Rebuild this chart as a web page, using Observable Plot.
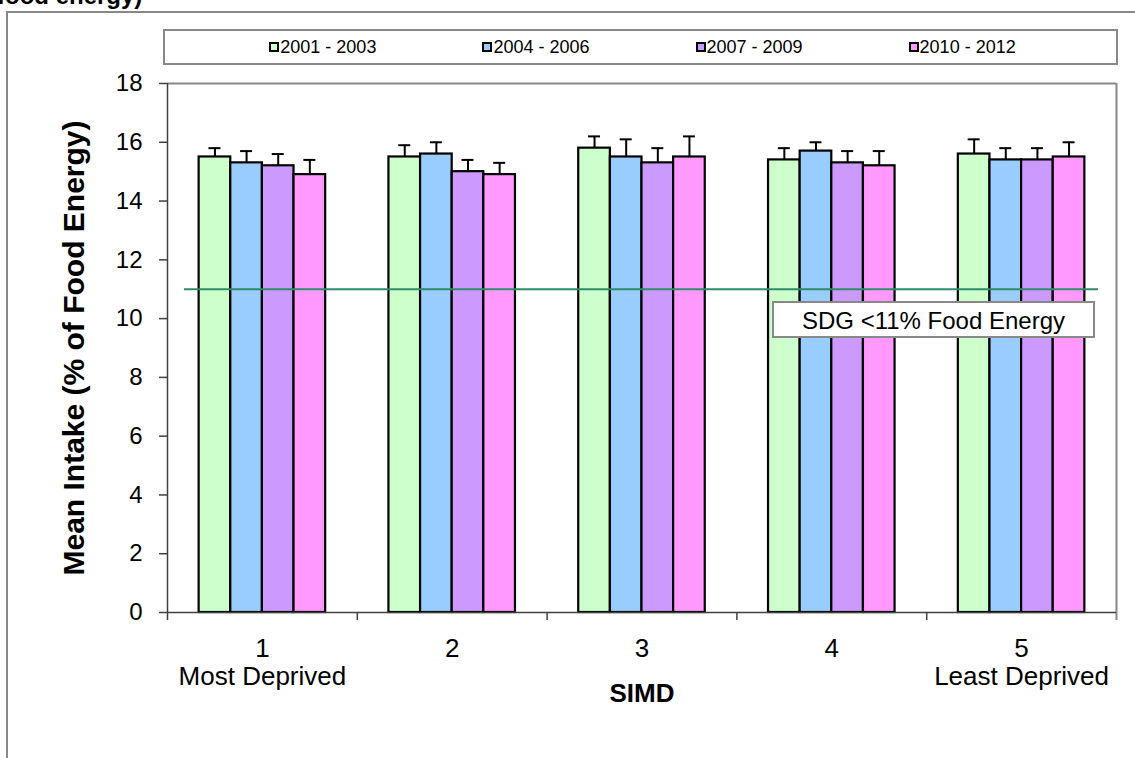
<!DOCTYPE html>
<html><head><meta charset="utf-8">
<script src="https://cdn.jsdelivr.net/npm/d3@7"></script>
<script src="https://cdn.jsdelivr.net/npm/@observablehq/plot@0.6"></script>
<style>
body{margin:0;background:#fff;font-family:"Liberation Sans",Arial,sans-serif;}
#wrap{position:relative;width:1135px;height:758px;overflow:hidden;background:#fff;}
#frame{position:absolute;left:6px;top:11px;width:1200px;height:800px;border:2px solid #888;box-sizing:border-box;}
#title{position:absolute;left:-3px;top:-16px;font-weight:bold;font-size:24px;line-height:23px;white-space:nowrap;color:#000;}
#legend{position:absolute;left:163px;top:29px;width:955px;height:36px;border:2px solid #888;box-sizing:border-box;background:#fff;display:flex;align-items:center;justify-content:center;gap:106px;font-size:18px;padding-left:4px;}
.item{display:flex;align-items:center;white-space:nowrap;}
.sw{width:10px;height:10px;border:2px solid #000;box-sizing:border-box;margin-right:1px;}
#chart{position:absolute;left:0;top:0;}
#sdg{position:absolute;left:772px;top:301px;width:323px;height:37px;border:2px solid #888;box-sizing:border-box;background:#fff;font-size:24px;line-height:33px;padding-left:28px;padding-top:1px;white-space:nowrap;}
</style></head>
<body>
<div id="wrap">
  <div id="frame"></div>
  <div id="title">food energy)</div>
  <div id="chart"></div>
  <div id="legend"></div>
  <div id="sdg"></div>
</div>
<script>
const simd = [1, 2, 3, 4, 5];
const simdLabels = ["1\nMost Deprived", "2", "3", "4", "5\nLeast Deprived"];
const periods = ["2001 - 2003", "2004 - 2006", "2007 - 2009", "2010 - 2012"];
const colors = ["#CCFFCC", "#99CCFF", "#CC99FF", "#FF99FF"];
const mean2001 = [15.5, 15.5, 15.8, 15.4, 15.6];
const mean2004 = [15.3, 15.6, 15.5, 15.7, 15.4];
const mean2007 = [15.2, 15.0, 15.3, 15.3, 15.4];
const mean2010 = [14.9, 14.9, 15.5, 15.2, 15.5];
const upper2001 = [15.8, 15.9, 16.2, 15.8, 16.1];
const upper2004 = [15.7, 16.0, 16.1, 16.0, 15.8];
const upper2007 = [15.6, 15.4, 15.8, 15.7, 15.8];
const upper2010 = [15.4, 15.3, 16.2, 15.7, 16.0];
const yTicks = [0, 2, 4, 6, 8, 10, 12, 14, 16, 18];
const sdgValue = 11;
const sdgLabel = "SDG <11% Food Energy";
const xTitle = "SIMD";
const yTitle = "Mean Intake (% of Food Energy)";

const means = [mean2001, mean2004, mean2007, mean2010];
const uppers = [upper2001, upper2004, upper2007, upper2010];
const rows = periods.flatMap((p, k) => simd.map((s, j) => ({simd: s, period: p, k, mean: means[k][j], upper: uppers[k][j]})));
const slots = periods.length + 2;
const left = d => d.simd - 0.5 + (d.k + 1) / slots;
const right = d => left(d) + 1 / slots;
const mid = d => left(d) + 0.5 / slots;
const bounds = simd.map(s => s - 0.5).concat([simd[simd.length - 1] + 0.5]);

const chart = Plot.plot({
  width: 1135, height: 758,
  marginLeft: 167, marginRight: 19, marginTop: 83, marginBottom: 146,
  style: {background: "transparent", fontFamily: "'Liberation Sans', Arial, sans-serif", color: "#000"},
  x: {type: "linear", domain: [bounds[0], bounds[bounds.length - 1]], axis: null},
  y: {domain: [0, 18], axis: null},
  color: {domain: periods, range: colors},
  marks: [
    Plot.ruleY([yTicks[yTicks.length - 1]], {stroke: "#888", strokeWidth: 2}),
    Plot.rect(rows, {x1: left, x2: right, y1: 0, y2: "mean", fill: "period", stroke: "#000", strokeWidth: 2.2}),
    Plot.ruleX(rows, {x: mid, y1: "mean", y2: "upper", stroke: "#000", strokeWidth: 2}),
    Plot.ruleY(rows, {y: "upper", x1: mid, x2: mid, insetLeft: -6, insetRight: -6, stroke: "#000", strokeWidth: 2}),
    Plot.ruleY([sdgValue], {stroke: "#2e8b68", strokeWidth: 2, insetLeft: 17, insetRight: 18}),
    Plot.ruleX(bounds.slice(0, -1), {y1: 0, y2: 0, insetBottom: -8, stroke: "#404040", strokeWidth: 1.5}),
    Plot.ruleX([bounds[bounds.length - 1]], {insetBottom: -8, stroke: "#888", strokeWidth: 2}),
    Plot.ruleX([bounds[0]], {stroke: "#404040", strokeWidth: 1.5}),
    Plot.ruleY([0], {stroke: "#404040", strokeWidth: 1.5}),
    Plot.axisY({ticks: yTicks, tickSize: 8, tickPadding: 17, fontSize: 24, label: null, stroke: "#404040", strokeWidth: 1.5, fill: "#000"}),
    Plot.axisX(simd, {tickSize: 0, tickPadding: 25, fontSize: 26, lineHeight: 1.06, label: null, fill: "#000", tickFormat: d => simdLabels[simd.indexOf(d)]}),
    Plot.text([xTitle], {text: d => d, frameAnchor: "bottom", dy: 89, fontSize: 26, fontWeight: "bold", fill: "#000"}),
    Plot.text([yTitle], {text: d => d, frameAnchor: "left", textAnchor: "middle", rotate: -90, dx: -93, fontSize: 30, fontWeight: "bold", fill: "#000"})
  ]
});
document.getElementById("chart").appendChild(chart);

const legend = d3.select("#legend");
periods.forEach((p, i) => {
  const it = legend.append("div").attr("class", "item");
  it.append("div").attr("class", "sw").style("background", colors[i]);
  it.append("span").text(p);
});
document.getElementById("sdg").textContent = sdgLabel;
</script>
</body></html>
